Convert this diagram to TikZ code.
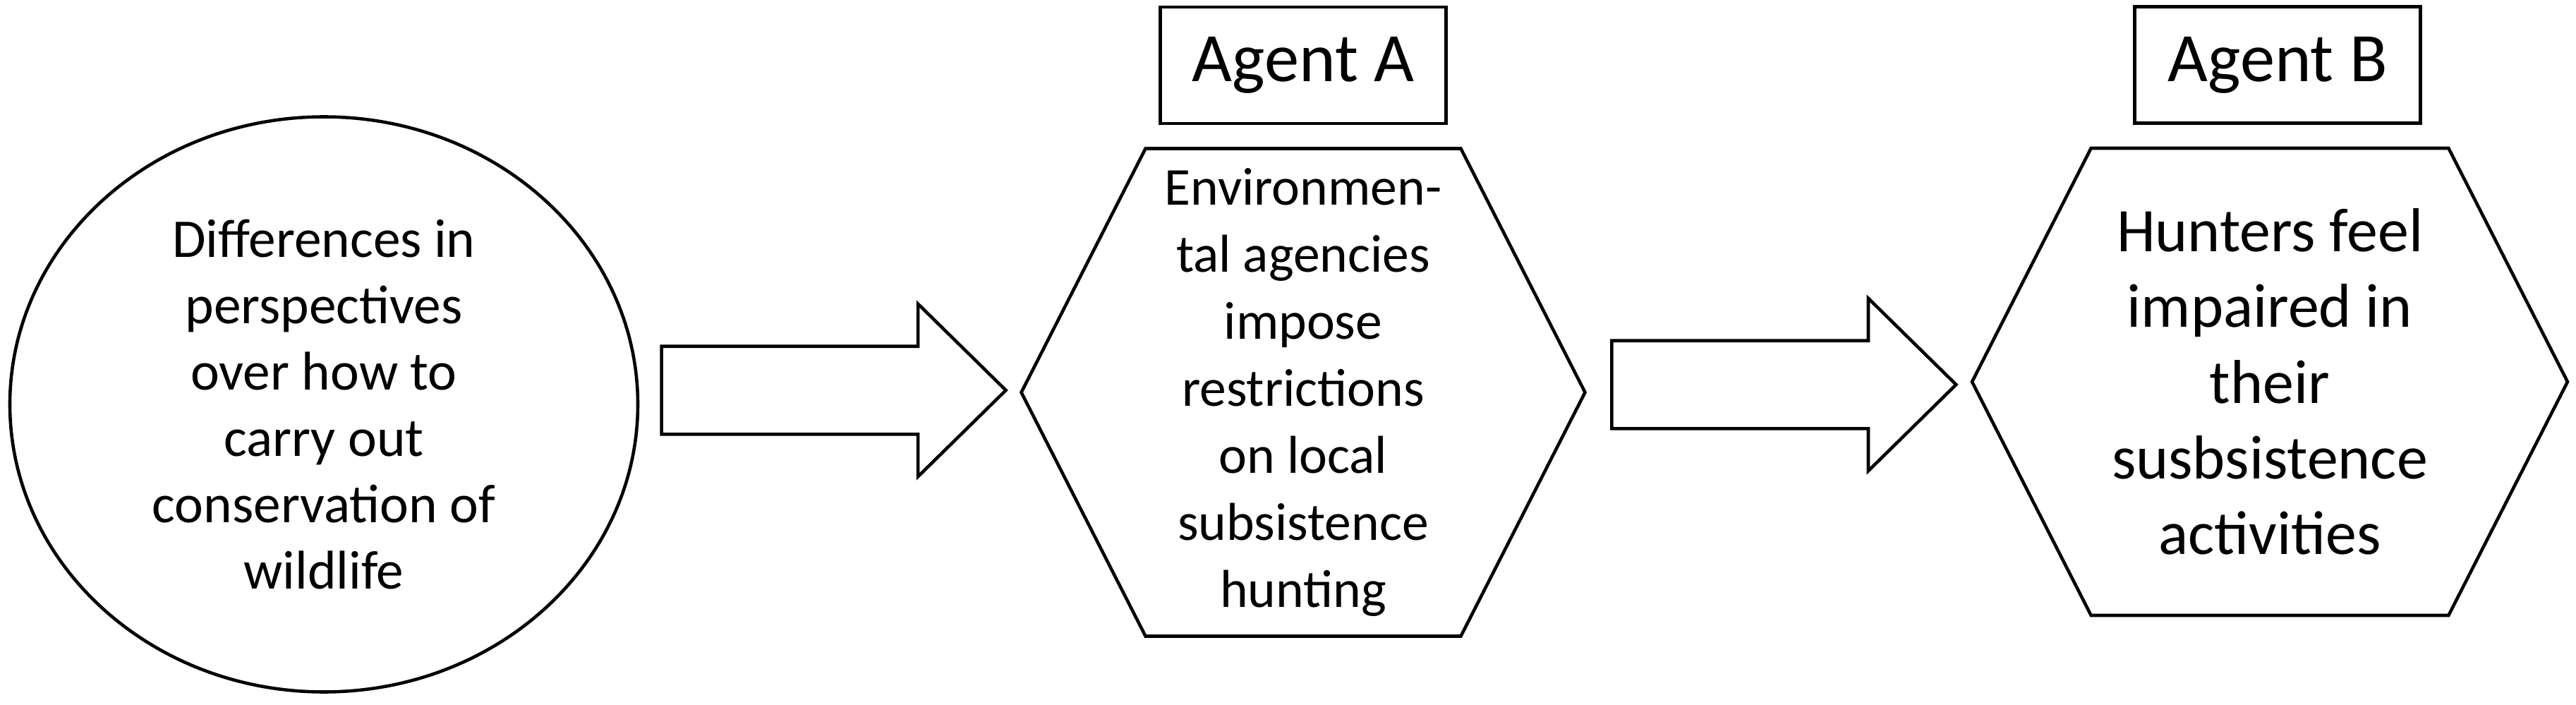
\documentclass[tikz,border=0pt]{standalone}
\usepackage{fontspec}
\setmainfont{Carlito}
\usetikzlibrary{positioning,shapes.geometric,shapes.arrows,shapes.symbols}

\begin{document}
\begin{tikzpicture}[line width=1.3pt,node distance=0.31cm,
    cause/.style={ellipse,draw,align=center,inner sep=0pt,
        minimum width=8.9cm,minimum height=8.15cm,
        font=\fontsize{22}{26.7}\selectfont},
    agenthex/.style={signal,signal to=east and west,signal pointer angle=126,
        draw,align=center,inner sep=0pt},
    agentbox/.style={rectangle,draw,minimum width=4.05cm,minimum height=1.65cm,
        font=\fontsize{28}{34}\selectfont},
    blockarrow/.style={single arrow,draw,inner xsep=0pt,inner ysep=0.6cm,
        minimum height=4.88cm,minimum width=2.4cm,
        single arrow head extend=0.6cm,single arrow tip angle=89}]

\useasboundingbox (0,0) rectangle (36.51,9.98);

\node[cause] (cause) at (4.59,4.25)
    {Differences in\\perspectives\\over how to\\carry out\\conservation of\\wildlife};
\node[agenthex,minimum width=7.99cm,minimum height=6.91cm,
    font=\fontsize{21.5}{27}\selectfont] (hexA) at (18.47,4.42)
    {Environmen-\\tal agencies\\impose\\restrictions\\on local\\subsistence\\hunting};
\node[agenthex,minimum width=8.44cm,minimum height=6.62cm,
    font=\fontsize{25}{30.5}\selectfont] (hexB) at (32.17,4.57)
    {Hunters feel\\impaired in\\their\\susbsistence\\activities};

\node[agentbox] (agentA) [above=of hexA] {Agent A};
\node[agentbox] (agentB) [above=of hexB,xshift=0.11cm] {Agent B};

\node[blockarrow] (arrowA) [right=0.29cm of cause,yshift=0.2cm] {};
\node[blockarrow] (arrowB) [right=0.33cm of hexA,yshift=0.11cm] {};

\end{tikzpicture}
\end{document}
